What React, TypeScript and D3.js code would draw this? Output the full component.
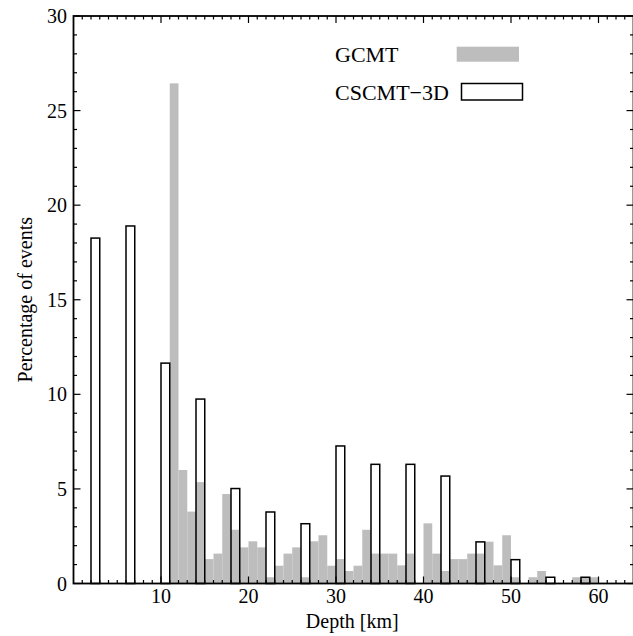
import React from "react";
import * as d3 from "d3";

const gcmtStart = 11;
const gcmtValues = [
  26.44, 6.0, 3.8, 5.36, 1.29, 1.58, 4.73, 2.84, 1.91, 2.23, 1.91, 0.33, 0.94, 1.58, 1.91, 0.33,
  2.23, 2.55, 0.94, 1.29, 0.66, 0.94, 2.84, 1.58, 1.58, 1.58, 0.96, 1.58, 0, 3.18, 1.58, 0.66,
  1.29, 1.29, 1.58, 1.58, 2.21, 0.96, 2.55, 0.33, 0, 0.33, 0.66, 0, 0, 0, 0.33, 0.33, 0.33,
];
const cscmtStarts = [2, 6, 10, 14, 18, 22, 26, 30, 34, 38, 42, 46, 50, 54, 58];
const cscmtValues = [18.26, 18.9, 11.65, 9.75, 5.02, 3.78, 3.16, 7.27, 6.3, 6.3, 5.68, 2.2, 1.26, 0.33, 0.33];
const xMajorTicks = [10, 20, 30, 40, 50, 60];
const yMajorTicks = [0, 5, 10, 15, 20, 25, 30];
const legendLabels = ["GCMT", "CSCMT\u22123D"];

const W = 633;
const H = 636;
const FONT = "'Liberation Serif', 'Times New Roman', serif";

export default function App() {
  const x = d3.scaleLinear().domain([0, 64]).range([73.5, 633.5]);
  const y = d3.scaleLinear().domain([0, 30]).range([583.5, 16]);
  const [x0, x1] = x.range();
  const [y0, y1] = y.range();
  const xMinor = d3.range(1, 64).filter((v) => v % 10 !== 0);
  const yMinor = d3.range(1, 30).filter((v) => v % 5 !== 0);
  const gray = "#bdbdbd";

  return (
    <div style={{ position: "fixed", left: 0, top: 0 }}>
      <svg width={W} height={H} style={{ display: "block", background: "#fff" }}>
        {/* GCMT bars */}
        {gcmtValues.map((v, i) =>
          v > 0 ? (
            <rect
              key={"g" + i}
              x={x(gcmtStart + i)}
              y={y(v)}
              width={x(gcmtStart + i + 1) - x(gcmtStart + i)}
              height={y(0) - y(v)}
              fill={gray}
            />
          ) : null
        )}
        {/* CSCMT-3D bars */}
        {cscmtValues.map((v, i) => (
          <rect
            key={"c" + i}
            x={x(cscmtStarts[i])}
            y={y(v)}
            width={x(cscmtStarts[i] + 1) - x(cscmtStarts[i])}
            height={y(0) - y(v)}
            fill="none"
            stroke="#000"
            strokeWidth={1.5}
          />
        ))}
        {/* ticks */}
        <g stroke="#000" strokeWidth={1.2}>
          {xMinor.map((t) => (
            <g key={"xm" + t}>
              <line x1={x(t)} x2={x(t)} y1={y0} y2={y0 - 3.5} />
              <line x1={x(t)} x2={x(t)} y1={y1} y2={y1 + 3.5} />
            </g>
          ))}
          {xMajorTicks.map((t) => (
            <g key={"xM" + t}>
              <line x1={x(t)} x2={x(t)} y1={y0} y2={y0 - 7} />
              <line x1={x(t)} x2={x(t)} y1={y1} y2={y1 + 7} />
            </g>
          ))}
          {yMinor.map((t) => (
            <g key={"ym" + t}>
              <line x1={x0} x2={x0 + 3.5} y1={y(t)} y2={y(t)} />
              <line x1={x1} x2={x1 - 3.5} y1={y(t)} y2={y(t)} />
            </g>
          ))}
          {yMajorTicks.map((t) => (
            <g key={"yM" + t}>
              <line x1={x0} x2={x0 + 7} y1={y(t)} y2={y(t)} />
              <line x1={x1} x2={x1 - 7} y1={y(t)} y2={y(t)} />
            </g>
          ))}
        </g>
        {/* frame */}
        <rect x={x0} y={y1} width={x1 - x0} height={y0 - y1} fill="none" stroke="#000" strokeWidth={1.8} />
        {/* tick labels */}
        <g fontFamily={FONT} fontSize={20} fill="#000">
          {xMajorTicks.map((t) => (
            <text key={"xl" + t} x={x(t)} y={603} textAnchor="middle">
              {t}
            </text>
          ))}
          {yMajorTicks.map((t) => (
            <text key={"yl" + t} x={67} y={y(t) + 7} textAnchor="end">
              {t}
            </text>
          ))}
          <text x={(x0 + 631) / 2} y={628} textAnchor="middle">
            Depth [km]
          </text>
          <text transform={`translate(31.5, ${(y0 + y1) / 2}) rotate(-90)`} textAnchor="middle">
            Percentage of events
          </text>
        </g>
        {/* legend */}
        <g fontFamily={FONT} fontSize={22} fill="#000">
          <text x={335} y={61.7}>{legendLabels[0]}</text>
          <rect x={456.7} y={46.7} width={62.3} height={15} fill={gray} />
          <text x={335} y={100}>{legendLabels[1]}</text>
          <rect x={461.5} y={83.5} width={61} height={16.5} fill="none" stroke="#000" strokeWidth={1.5} />
        </g>
      </svg>
    </div>
  );
}
